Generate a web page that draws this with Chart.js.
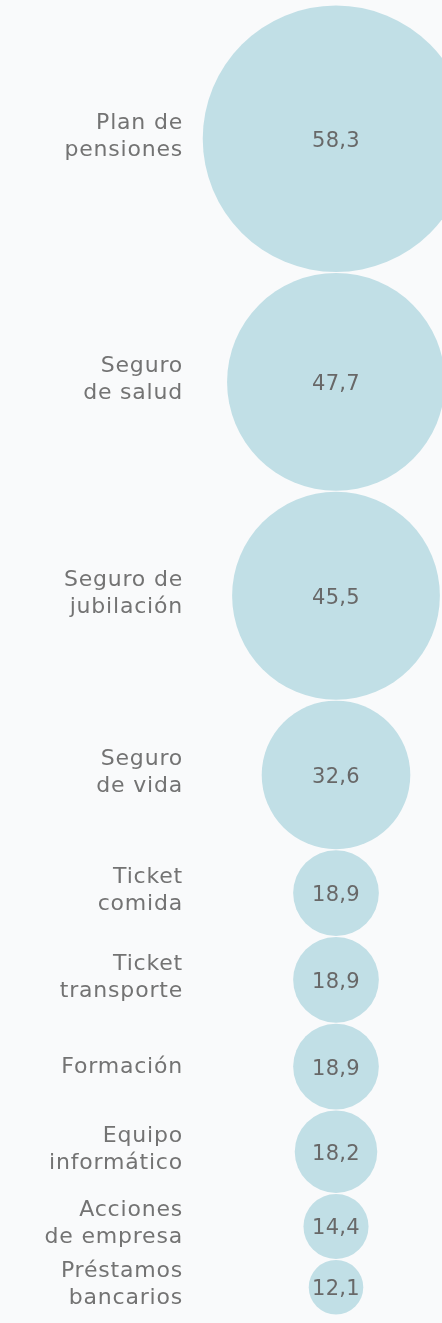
<!DOCTYPE html>
<html lang="es">
<head>
<meta charset="utf-8">
<script src="https://cdn.jsdelivr.net/npm/chart.js@4"></script>
<style>
  html, body { margin: 0; padding: 0; background: #f9fafb; }
  canvas { display: block; }
</style>
</head>
<body>
<canvas id="chart" width="442" height="1323"></canvas>
<script>
// Datos
const categories = [
  ['Plan de', 'pensiones'],
  ['Seguro', 'de salud'],
  ['Seguro de', 'jubilación'],
  ['Seguro', 'de vida'],
  ['Ticket', 'comida'],
  ['Ticket', 'transporte'],
  ['Formación'],
  ['Equipo', 'informático'],
  ['Acciones', 'de empresa'],
  ['Préstamos', 'bancarios']
];
const values = [58.3, 47.7, 45.5, 32.6, 18.9, 18.9, 18.9, 18.2, 14.4, 12.1];

// Las burbujas se apilan una debajo de otra (radio proporcional al valor)
let total = 0;
const centers = values.map(v => {
  const c = total + v;
  total += 2 * v;
  return c;
});

const fmt = v => v.toFixed(1).replace('.', ',');
const FONT = '"DejaVu Sans", sans-serif';

// burbujas sin margen automático (se permite que se corten en el borde)
class StackedBubble extends Chart.BubbleController {
  getMaxOverflow() { return 0; }
}
StackedBubble.id = 'stackedBubble';
StackedBubble.defaults = Chart.BubbleController.defaults;
StackedBubble.overrides = Chart.BubbleController.overrides;
Chart.register(StackedBubble);

// Texto: categorías a la izquierda y valor dentro de cada burbuja
const labelPlugin = {
  id: 'bubbleLabels',
  afterDatasetsDraw(chart) {
    const ctx = chart.ctx;
    const meta = chart.getDatasetMeta(0);
    ctx.save();
    ctx.textBaseline = 'alphabetic';
    meta.data.forEach((pt, i) => {
      ctx.letterSpacing = '0.3px';
      ctx.fillStyle = '#686868';
      ctx.font = '21px ' + FONT;
      ctx.textAlign = 'center';
      ctx.fillText(fmt(values[i]), pt.x, pt.y + 8);

      const lines = categories[i];
      ctx.letterSpacing = '0.8px';
      ctx.fillStyle = '#737373';
      ctx.font = '22px ' + FONT;
      ctx.textAlign = 'right';
      if (lines.length === 1) {
        ctx.fillText(lines[0], 183, pt.y + 6);
      } else {
        ctx.fillText(lines[0], 183, pt.y - 10);
        ctx.fillText(lines[1], 183, pt.y + 17);
      }
    });
    ctx.restore();
  }
};

const chart = new Chart(document.getElementById('chart'), {
  type: 'stackedBubble',
  data: {
    datasets: [{
      data: centers.map(c => ({ x: 0, y: c, r: 1 })),
      backgroundColor: '#c1dfe6',
      borderWidth: 0,
      clip: false
    }]
  },
  options: {
    responsive: false,
    animation: false,
    events: [],
    layout: { padding: { left: 230, right: 0, top: 5, bottom: 8 } },
    scales: {
      x: { type: 'linear', min: -1, max: 1, display: false },
      y: { type: 'linear', min: 0, max: total, reverse: true, display: false }
    },
    plugins: {
      legend: { display: false },
      tooltip: { enabled: false }
    }
  },
  plugins: [labelPlugin]
});

// radio en píxeles = valor * escala del eje y
const ys = chart.scales.y;
const k = Math.abs(ys.getPixelForValue(1) - ys.getPixelForValue(0));
chart.data.datasets[0].data.forEach((d, i) => { d.r = values[i] * k - 0.5; });
chart.update();
</script>
</body>
</html>
